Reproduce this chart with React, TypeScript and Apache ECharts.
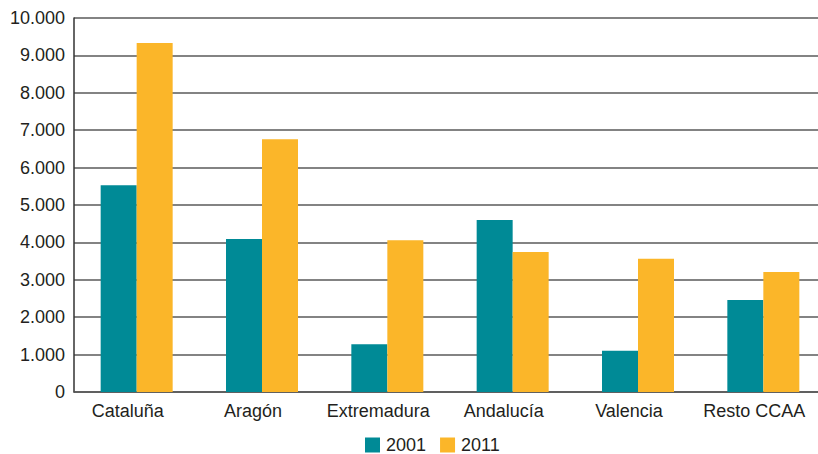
import React, { useEffect, useRef } from "react";
import * as echarts from "echarts";

const categories = ["Cataluña", "Aragón", "Extremadura", "Andalucía", "Valencia", "Resto CCAA"];
const series2001 = [5530, 4090, 1280, 4600, 1100, 2460];
const series2011 = [9330, 6760, 4060, 3740, 3560, 3210];
const seriesNames = ["2001", "2011"];

const FONT = "'Liberation Sans', Arial, Helvetica, sans-serif";
const TEXT = "#231f20";

function fmt(v: number): string {
  return String(v).replace(/\B(?=(\d{3})+(?!\d))/g, ".");
}

export default function App() {
  const ref = useRef<HTMLDivElement>(null);
  useEffect(() => {
    document.body.style.margin = "0";
    if (!ref.current) return;
    const chart = echarts.init(ref.current, null, { renderer: "svg" });
    chart.setOption({
      animation: false,
      textStyle: { fontFamily: FONT },
      grid: {
        left: 74,
        width: 752,
        top: 18,
        height: 374,
        containLabel: false,
        outerBoundsMode: "none",
      },
      legend: {
        left: 360,
        top: 431,
        itemWidth: 15,
        itemHeight: 15,
        itemGap: 14,
        icon: "rect",
        textStyle: { fontFamily: FONT, fontSize: 18, lineHeight: 18, color: TEXT, padding: [0, 0, 0, 1] },
        data: seriesNames,
      },
      xAxis: {
        type: "category",
        data: categories,
        axisLine: { show: true, lineStyle: { color: "#555", width: 1.5 } },
        axisTick: { show: false },
        axisLabel: {
          fontFamily: FONT,
          fontSize: 18,
          color: TEXT,
          margin: 10,
          interval: 0,
          padding: [0, 18, 0, 0],
        },
      },
      yAxis: {
        type: "value",
        min: 0,
        max: 10000,
        interval: 1000,
        axisLine: { show: true, lineStyle: { color: "#333", width: 1.5 } },
        axisTick: { show: false },
        splitLine: { show: true, lineStyle: { color: "#5a5a5a", width: 1.5 } },
        axisLabel: {
          fontFamily: FONT,
          fontSize: 18,
          color: TEXT,
          margin: 9,
          formatter: (v: number) => fmt(v),
        },
      },
      series: [
        {
          name: seriesNames[0],
          type: "bar",
          data: series2001,
          barWidth: 36,
          barGap: "0%",
          itemStyle: { color: "#008a96" },
        },
        {
          name: seriesNames[1],
          type: "bar",
          data: series2011,
          barWidth: 36,
          barGap: "0%",
          itemStyle: { color: "#fbb629" },
        },
      ],
    });
    return () => chart.dispose();
  }, []);
  return <div ref={ref} style={{ width: 818, height: 454 }} />;
}
